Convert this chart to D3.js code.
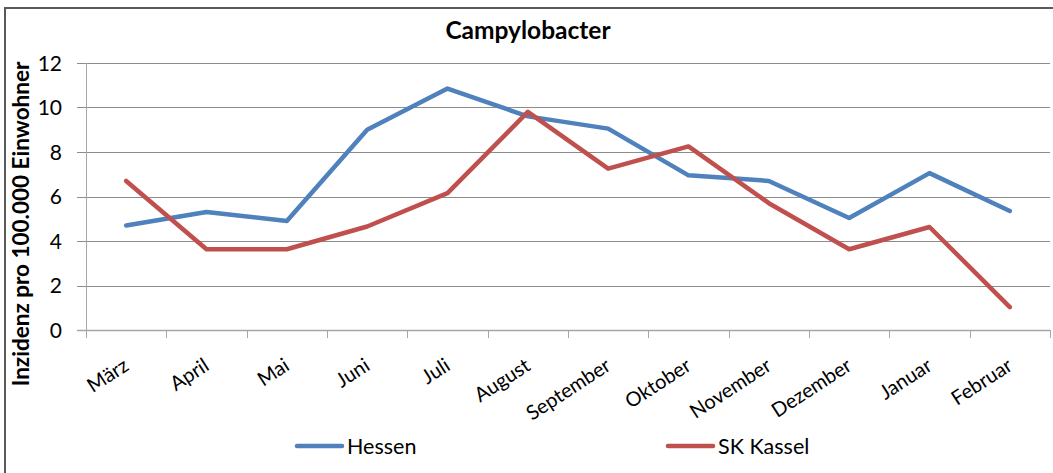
<!DOCTYPE html>
<html>
<head>
<meta charset="utf-8">
<script src="https://cdn.jsdelivr.net/npm/d3@7"></script>
<style>
  body { margin: 0; background: #fff; }
  text { font-family: Lato, "Open Sans", sans-serif; fill: #000; }
</style>
</head>
<body>
<script>
// monthly values
var months = ["März", "April", "Mai", "Juni", "Juli", "August", "September",
              "Oktober", "November", "Dezember", "Januar", "Februar"];
var hessen = [4.7, 5.3, 4.9, 9.0, 10.85, 9.6, 9.05, 6.95, 6.7, 5.03, 7.05, 5.35];
var kassel = [6.7, 3.63, 3.63, 4.65, 6.15, 9.8, 7.25, 8.25, 5.7, 3.63, 4.63, 1.03];
var yTicks = [0, 2, 4, 6, 8, 10, 12];

var series = [
  { name: "Hessen", values: hessen, color: "#4f81bd" },
  { name: "SK Kassel", values: kassel, color: "#c0504d" }
];

var W = 1053, H = 473;
var plotL = 86, plotR = 1050, plotT = 63, plotB = 330;

var svg = d3.select("body").append("svg")
  .attr("width", W)
  .attr("height", H);

// outer chart border (runs off the picture at right and bottom)
svg.append("rect")
  .attr("x", 5).attr("y", 8)
  .attr("width", W + 10).attr("height", H + 10)
  .attr("fill", "#fff")
  .attr("stroke", "#595959")
  .attr("stroke-width", 2);

var x = d3.scaleBand().domain(months).range([plotL, plotR]);
var y = d3.scaleLinear().domain([0, 12]).range([plotB, plotT]);

// gridlines + y ticks
svg.append("g")
  .selectAll("line")
  .data(yTicks)
  .enter().append("line")
  .attr("x1", plotL - 9)
  .attr("x2", plotR)
  .attr("y1", function(d) { return Math.round(y(d)) + 0.5; })
  .attr("y2", function(d) { return Math.round(y(d)) + 0.5; })
  .attr("stroke", function(d) { return d === 0 ? "#a6a6a6" : "#8c8c8c"; })
  .attr("stroke-width", function(d) { return d === 0 ? 1.5 : 1; });

svg.append("g")
  .selectAll("text")
  .data(yTicks)
  .enter().append("text")
  .attr("x", plotL - 24)
  .attr("y", function(d) { return y(d); })
  .attr("dy", "0.36em")
  .attr("text-anchor", "end")
  .style("font-size", "21px")
  .text(function(d) { return d; });

// y axis line
svg.append("line")
  .attr("x1", plotL + 0.5).attr("x2", plotL + 0.5)
  .attr("y1", plotT).attr("y2", plotB + 8)
  .attr("stroke", "#a6a6a6");

// x ticks between categories
var edges = months.map(function(m) { return x(m); }).concat([plotR]);
svg.append("g")
  .selectAll("line")
  .data(edges)
  .enter().append("line")
  .attr("x1", function(d) { return Math.round(d) + 0.5; })
  .attr("x2", function(d) { return Math.round(d) + 0.5; })
  .attr("y1", plotB)
  .attr("y2", plotB + 8)
  .attr("stroke", "#a6a6a6");

// rotated month labels
svg.append("g")
  .selectAll("text")
  .data(months)
  .enter().append("text")
  .attr("text-anchor", "end")
  .attr("transform", function(d) {
    var cx = x(d) + x.bandwidth() / 2 + 4;
    return "translate(" + cx + "," + (plotB + 39) + ") rotate(-33)";
  })
  .style("font-size", "20px")
  .text(function(d) { return d; });

// lines
var line = d3.line()
  .x(function(d, i) { return x(months[i]) + x.bandwidth() / 2; })
  .y(function(d) { return y(d); });

svg.append("g")
  .selectAll("path")
  .data(series)
  .enter().append("path")
  .attr("d", function(s) { return line(s.values); })
  .attr("fill", "none")
  .attr("stroke", function(s) { return s.color; })
  .attr("stroke-width", 4.5)
  .attr("stroke-linejoin", "round")
  .attr("stroke-linecap", "round");

// title
svg.append("text")
  .attr("x", 528).attr("y", 39)
  .attr("text-anchor", "middle")
  .style("font-size", "24.5px")
  .style("font-weight", "bold")
  .text("Campylobacter");

// y axis title
svg.append("text")
  .attr("transform", "translate(29," + 224 + ") rotate(-90)")
  .attr("text-anchor", "middle")
  .style("font-size", "22.5px")
  .style("font-weight", "bold")
  .text("Inzidenz pro 100.000 Einwohner");

// legend
var legendX = [297, 668];
var legend = svg.append("g")
  .selectAll("g")
  .data(series)
  .enter().append("g")
  .attr("transform", function(s, i) { return "translate(" + legendX[i] + ",446)"; });

legend.append("line")
  .attr("x1", 0).attr("x2", 45)
  .attr("stroke", function(s) { return s.color; })
  .attr("stroke-width", 4.5)
  .attr("stroke-linecap", "round");

legend.append("text")
  .attr("x", 50)
  .attr("dy", "0.36em")
  .style("font-size", "21.5px")
  .text(function(s) { return s.name; });
</script>
</body>
</html>
